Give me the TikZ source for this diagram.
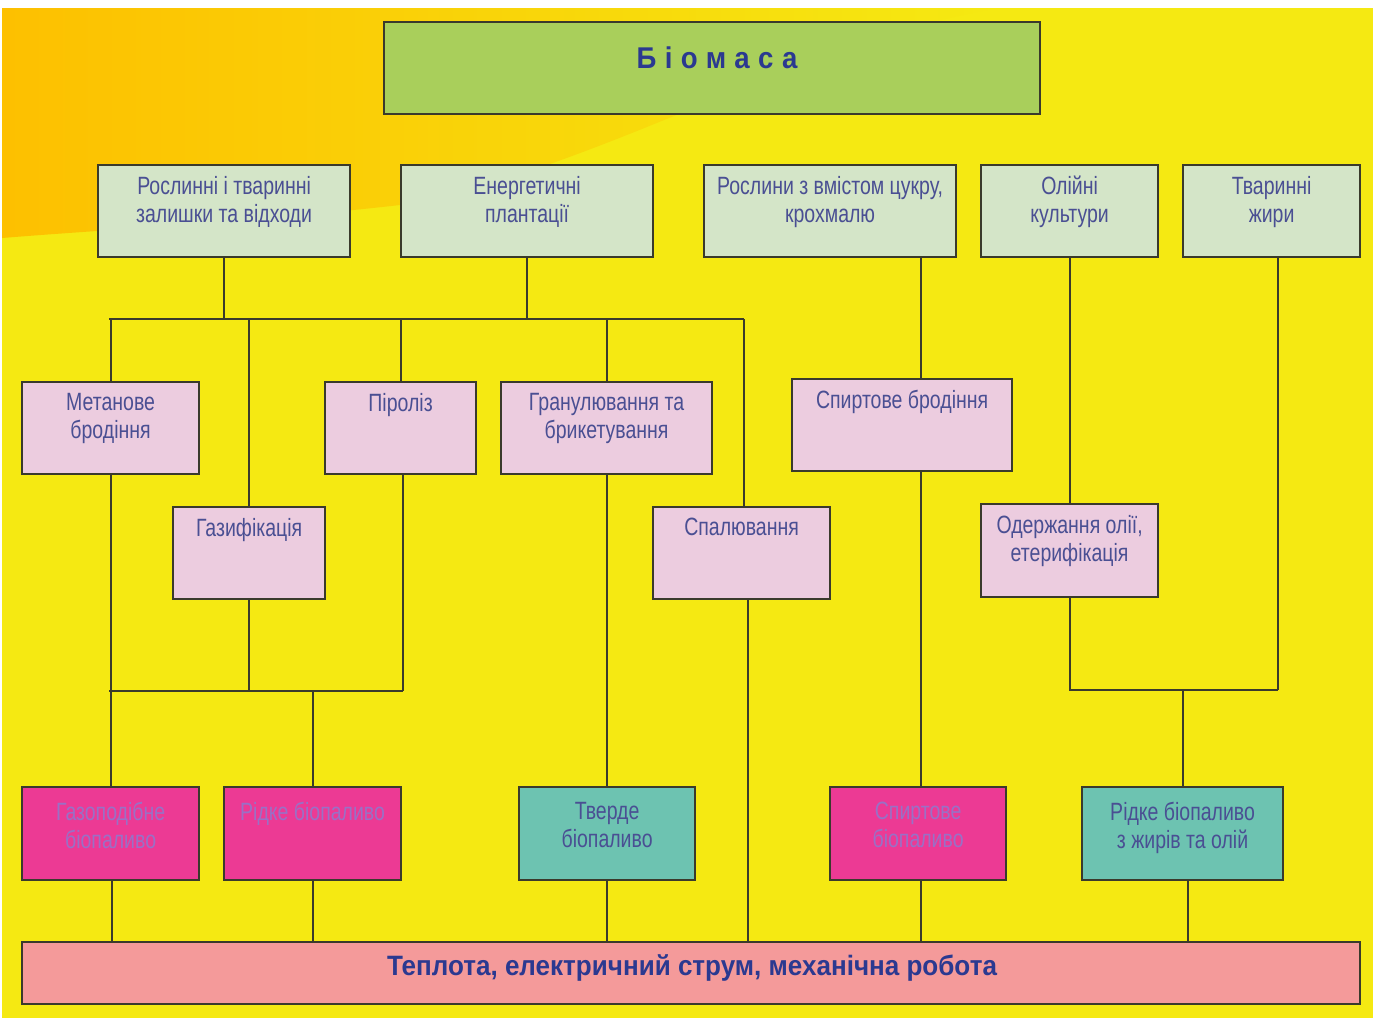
\documentclass[tikz,border=0pt]{standalone}
\usepackage{fontspec}
\setmainfont{Liberation Sans}
\newfontfamily\nar[FakeStretch=0.78]{Liberation Sans}
\newfontfamily\heatfont[FakeStretch=0.93]{Liberation Sans Bold}
\newfontfamily\titlefont[FakeStretch=0.92,LetterSpace=28]{Liberation Sans Bold}
\definecolor{bgyellow}{HTML}{F5E912}
\definecolor{bgorange}{HTML}{FDC000}
\definecolor{bggold}{HTML}{FFD800}
\definecolor{biogreen}{HTML}{A9CF5B}
\definecolor{srcgreen}{HTML}{D4E5C8}
\definecolor{procpink}{HTML}{ECCCDF}
\definecolor{fuelmag}{HTML}{EC3A94}
\definecolor{fuelteal}{HTML}{6DC3B1}
\definecolor{heatpink}{HTML}{F49A9A}
\definecolor{boxline}{HTML}{3A3A2C}
\definecolor{txtblue}{HTML}{4A4F93}
\definecolor{titleblue}{HTML}{2B3990}
\definecolor{magtxt}{HTML}{9A70C6}
\tikzset{
  box/.style={draw=boxline, line width=2.2pt, inner sep=0pt, anchor=north west},
  biobox/.style={box, fill=biogreen},
  srcbox/.style={box, fill=srcgreen, minimum height=92},
  procbox/.style={box, fill=procpink, minimum height=92},
  magbox/.style={box, fill=fuelmag, minimum height=93},
  tealbox/.style={box, fill=fuelteal, minimum height=93},
  heatbox/.style={box, fill=heatpink},
  txt/.style={font={\nar\fontsize{25}{28}\selectfont}, align=center, inner sep=0pt, anchor=north, text=txtblue},
  magtext/.style={txt, text=magtxt},
  conn/.style={draw=boxline, line width=1.8pt}
}
\begin{document}
\begin{tikzpicture}[x=1pt,y=-1pt]
\useasboundingbox (0,0) rectangle (1373,1018);
% background
\fill[white] (0,0) rectangle (1373,1018);
\fill[bgyellow] (2,8) rectangle (1373,1018);
\shade[left color=bgorange, middle color=bggold, right color=bgyellow]
  (2,8) -- (1000,8) .. controls (800,40) and (600,170) .. (400,205)
  .. controls (250,222) and (100,230) .. (2,238) -- cycle;

% top
\node[biobox, minimum width=656, minimum height=92] (bio) at (383,21) {};
\node[font=\titlefont\fontsize{30}{34}\selectfont, text=titleblue, inner sep=0pt, anchor=base] (tbio) at (717,68) {Біомаса};

% sources
\node[srcbox, minimum width=252] (src1) at (97,164) {};
\node[srcbox, minimum width=252] (src2) at (400,164) {};
\node[srcbox, minimum width=252] (src3) at (703,164) {};
\node[srcbox, minimum width=177] (src4) at (980,164) {};
\node[srcbox, minimum width=177] (src5) at (1182,164) {};
\node[txt] (tsrc1) at ([yshift=-12pt]src1.north) {Рослинні і тваринні\\залишки та відходи};
\node[txt] (tsrc2) at ([yshift=-12pt]src2.north) {Енергетичні\\плантації};
\node[txt] (tsrc3) at ([yshift=-12pt]src3.north) {Рослини з вмістом цукру,\\крохмалю};
\node[txt] (tsrc4) at ([yshift=-12pt]src4.north) {Олійні\\культури};
\node[txt] (tsrc5) at ([yshift=-12pt]src5.north) {Тваринні\\жири};

% processes
\node[procbox, minimum width=177] (met) at (21,381) {};
\node[procbox, minimum width=151] (pir) at (324,381) {};
\node[procbox, minimum width=211] (gran) at (500,381) {};
\node[procbox, minimum width=220] (alc) at (791,378) {};
\node[procbox, minimum width=152] (gaz) at (172,506) {};
\node[procbox, minimum width=177] (spal) at (652,506) {};
\node[procbox, minimum width=177, minimum height=93] (est) at (980,503) {};
\node[txt] (tmet) at ([yshift=-12pt]met.north) {Метанове\\бродіння};
\node[txt] (tpir) at ([yshift=-12pt]pir.north) {Піроліз};
\node[txt] (tgran) at ([yshift=-12pt]gran.north) {Гранулювання та\\брикетування};
\node[txt] (talc) at ([yshift=-12pt]alc.north) {Спиртове бродіння};
\node[txt] (tgaz) at ([yshift=-12pt]gaz.north) {Газифікація};
\node[txt] (tspal) at ([yshift=-12pt]spal.north) {Спалювання};
\node[txt] (test) at ([yshift=-12pt]est.north) {Одержання олії,\\етерифікація};

% fuels
\node[magbox, minimum width=177] (gasf) at (21,786) {};
\node[magbox, minimum width=177] (liq) at (223,786) {};
\node[tealbox, minimum width=176] (solid) at (518,786) {};
\node[magbox, minimum width=176] (alcf) at (829,786) {};
\node[tealbox, minimum width=201] (fatf) at (1081,786) {};
\node[magtext] (tgasf) at ([yshift=-16pt]gasf.north) {Газоподібне\\біопаливо};
\node[magtext] (tliq) at ([yshift=-16pt]liq.north) {Рідке біопаливо};
\node[txt] (tsolid) at ([yshift=-16pt]solid.north) {Тверде\\біопаливо};
\node[magtext] (talcf) at ([yshift=-16pt]alcf.north) {Спиртове\\біопаливо};
\node[txt] (tfatf) at ([yshift=-16pt]fatf.north) {Рідке біопаливо\\з жирів та олій};

% heat
\node[heatbox, minimum width=1338, minimum height=62] (heat) at (21,941) {};
\node[font=\heatfont\fontsize{28}{32}\selectfont, text=titleblue, inner sep=0pt, anchor=base] (theat) at (692,975) {Теплота, електричний струм, механічна робота};

% connectors: left tree
\coordinate (hl) at (109,319);
\coordinate (hr) at (744,319);
\draw[conn] (src1.south) -- (src1.south |- hl);
\draw[conn] (src2.south) -- (src2.south |- hl);
\draw[conn] (hl) -- (hr);
\draw[conn] (met.north |- hl) -- (met.north);
\draw[conn] (gaz.north |- hl) -- (gaz.north);
\draw[conn] (pir.north |- hl) -- (pir.north);
\draw[conn] (gran.north |- hl) -- (gran.north);
\draw[conn] (hr) -- (hr |- spal.north);

\coordinate (ml) at (109,691);
\coordinate (mr) at (403,691);
\draw[conn] (met.south) -- (met.south |- ml);
\draw[conn] (gaz.south) -- (gaz.south |- ml);
\draw[conn] (mr |- pir.south) -- (mr);
\draw[conn] (ml) -- (mr);
\draw[conn] (gasf.north |- ml) -- (gasf.north);
\draw[conn] (liq.north |- ml) -- (liq.north);
\draw[conn] (gran.south) -- (gran.south |- solid.north);
\coordinate (sp) at (748,598);
\draw[conn] (sp) -- (sp |- heat.north);

% sugar
\coordinate (sx) at (921,256);
\draw[conn] (sx) -- (sx |- alc.north);
\draw[conn] (sx |- alc.south) -- (sx |- alcf.north);
\draw[conn] (sx |- alcf.south) -- (sx |- heat.north);

% oils and fats
\coordinate (jl) at (1069,690);
\coordinate (jr) at (1278,690);
\coordinate (jm) at (1183,690);
\draw[conn] (src4.south) -- (src4.south |- est.north);
\draw[conn] (est.south) -- (est.south |- jl);
\draw[conn] (jr |- src5.south) -- (jr);
\draw[conn] (jl) -- (jr);
\draw[conn] (jm) -- (jm |- fatf.north);

% fuels to heat
\coordinate (b1) at (112,879);
\coordinate (b2) at (313,879);
\coordinate (b5) at (1188,879);
\draw[conn] (b1) -- (b1 |- heat.north);
\draw[conn] (b2) -- (b2 |- heat.north);
\draw[conn] (solid.south) -- (solid.south |- heat.north);
\draw[conn] (b5) -- (b5 |- heat.north);
\end{tikzpicture}
\end{document}
